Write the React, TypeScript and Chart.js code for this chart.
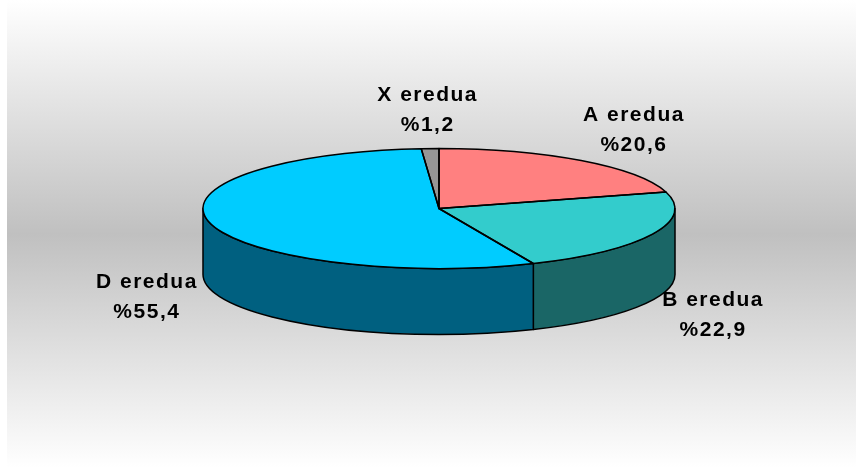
import React, { useEffect, useRef } from "react";
import { Chart, registerables } from "chart.js";

Chart.register(...registerables);

const categories = ["A eredua", "B eredua", "D eredua", "X eredua"];
const values = [20.6, 22.9, 55.4, 1.2];
const topColors = ["#FF8080", "#33CCCC", "#00CCFF", "#969696"];
const sideColors = ["#804040", "#1A6666", "#006080", "#4B4B4B"];

const W = 856;
const H = 470;
const PIE = { cx: 439, cy: 208.5, rx: 236, ry: 60, depth: 66 };

function visibleFront(s: number, e: number): Array<[number, number]> {
  const TWO = Math.PI * 2;
  let a = s;
  while (a < 0) a += TWO;
  while (a >= TWO) a -= TWO;
  const b = a + (e - s);
  const out: Array<[number, number]> = [];
  const ranges: Array<[number, number]> = [
    [0, Math.PI],
    [TWO, TWO + Math.PI],
  ];
  for (const [r0, r1] of ranges) {
    const lo = Math.max(a, r0);
    const hi = Math.min(b, r1);
    if (hi > lo + 1e-6) out.push([lo, hi]);
  }
  return out;
}

const pie3d = {
  id: "pie3d",
  beforeDraw(chart: any) {
    const ctx = chart.ctx;
    ctx.save();
    ctx.fillStyle = "#ffffff";
    ctx.fillRect(0, 0, W, H);
    const g = ctx.createLinearGradient(0, 0, 0, 468);
    g.addColorStop(0, "#ffffff");
    g.addColorStop(0.5, "#c0c0c0");
    g.addColorStop(1, "#ffffff");
    ctx.fillStyle = g;
    ctx.fillRect(7, 0, W - 7, 468);
    ctx.restore();
  },
  beforeDatasetsDraw(chart: any) {
    const ctx = chart.ctx;
    const arcs = chart.getDatasetMeta(0).data;
    const { cx, cy, rx, ry, depth } = PIE;
    ctx.save();
    ctx.lineWidth = 1.5;
    ctx.strokeStyle = "#000000";
    ctx.lineJoin = "round";
    arcs.forEach((arc: any, i: number) => {
      const p = arc.getProps(["startAngle", "endAngle"], true);
      for (const [t1, t2] of visibleFront(p.startAngle, p.endAngle)) {
        ctx.beginPath();
        ctx.ellipse(cx, cy, rx, ry, 0, t1, t2, false);
        ctx.ellipse(cx, cy + depth, rx, ry, 0, t2, t1, true);
        ctx.closePath();
        ctx.fillStyle = sideColors[i];
        ctx.fill();
        ctx.stroke();
      }
    });
    ctx.restore();
    const a0 = arcs[0].getProps(["x", "y", "outerRadius"], true);
    ctx.save();
    ctx.translate(cx, cy);
    ctx.scale(rx / a0.outerRadius, ry / a0.outerRadius);
    ctx.translate(-a0.x, -a0.y);
  },
  afterDatasetsDraw(chart: any) {
    const ctx = chart.ctx;
    ctx.restore();
    const arcs = chart.getDatasetMeta(0).data;
    const { cx, cy, rx, ry, depth } = PIE;
    ctx.save();
    ctx.lineWidth = 1.5;
    ctx.strokeStyle = "#000000";
    ctx.lineJoin = "round";
    arcs.forEach((arc: any) => {
      const p = arc.getProps(["startAngle", "endAngle"], true);
      ctx.beginPath();
      ctx.moveTo(cx, cy);
      ctx.ellipse(cx, cy, rx, ry, 0, p.startAngle, p.endAngle, false);
      ctx.closePath();
      ctx.stroke();
    });
    // labels
    ctx.fillStyle = "#000000";
    ctx.font = "bold 21px 'Liberation Sans', Arial, sans-serif";
    (ctx as any).letterSpacing = "1.5px";
    ctx.textAlign = "center";
    ctx.textBaseline = "alphabetic";
    arcs.forEach((arc: any, i: number) => {
      const p = arc.getProps(["startAngle", "endAngle"], true);
      const m = (p.startAngle + p.endAngle) / 2;
      const c = Math.cos(m);
      const s = Math.sin(m);
      const lx = cx + (rx + 66) * c + (s < 0 ? 25 * c * Math.abs(s) : 0) + 1;
      const ly = cy + (ry + 40) * s + (s > 0 ? depth - 3 : 0);
      ctx.fillText(categories[i], lx, ly - 8);
      ctx.fillText("%" + values[i].toFixed(1).replace(".", ","), lx, ly + 22);
    });
    ctx.restore();
  },
};

export default function App() {
  const ref = useRef<HTMLCanvasElement | null>(null);
  useEffect(() => {
    if (!ref.current) return;
    const chart = new Chart(ref.current, {
      type: "pie",
      data: {
        labels: categories,
        datasets: [
          {
            data: values,
            backgroundColor: topColors,
            borderWidth: 0,
            clip: false as any,
          },
        ],
      },
      options: {
        responsive: false,
        animation: false,
        devicePixelRatio: 1,
        layout: { padding: 0 },
        plugins: { legend: { display: false }, tooltip: { enabled: false } },
      },
      plugins: [pie3d],
    });
    return () => chart.destroy();
  }, []);
  return (
    <div style={{ position: "fixed", left: 0, top: 0, width: W, height: H }}>
      <canvas ref={ref} width={W} height={H} style={{ display: "block", width: W, height: H }} />
    </div>
  );
}
